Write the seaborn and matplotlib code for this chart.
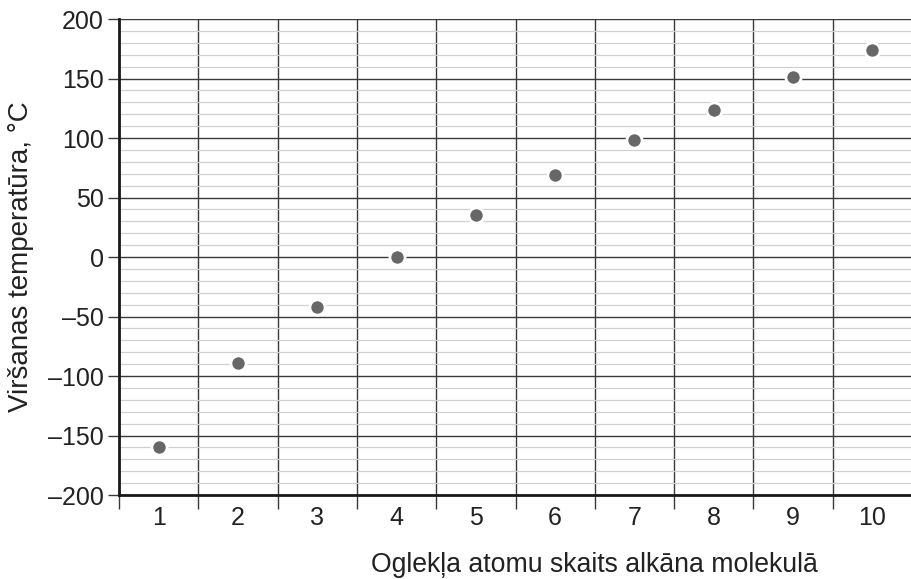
import matplotlib
matplotlib.use("Agg")
import matplotlib.pyplot as plt
import matplotlib.ticker as mticker
import seaborn as sns
import pandas as pd

# dati: oglekļa atomu skaits un viršanas temperatūra
atomi = [1, 2, 3, 4, 5, 6, 7, 8, 9, 10]
temperatura = [-160, -89, -42, 0, 35, 69, 98, 124, 151, 174]
y_ticks = [-200, -150, -100, -50, 0, 50, 100, 150, 200]

df = pd.DataFrame({"atomi": atomi, "temp": temperatura})

sns.set_style("white")
plt.rcParams['font.family'] = ['Liberation Sans', 'DejaVu Sans']

fig = plt.figure(figsize=(9.12, 5.79), dpi=100)
ax = fig.add_axes([0.1305, 0.145, 0.8695, 0.822])

ax.set_xlim(0.5, 10.41)
ax.set_ylim(-200, 200)

# režģis
ax.set_yticks(y_ticks)
ax.yaxis.set_minor_locator(mticker.MultipleLocator(10))
ax.grid(which='minor', axis='y', color='#d0d0d0', linewidth=0.9)
ax.grid(which='major', axis='y', color='#3a3a3a', linewidth=1.0)

ax.set_xticks(atomi)
ax.set_xticks([x + 0.5 for x in [0] + atomi], minor=True)
ax.grid(which='minor', axis='x', color='#3a3a3a', linewidth=1.0)
ax.set_axisbelow(True)

sns.scatterplot(data=df, x="atomi", y="temp", ax=ax, s=120, color='#676767',
                edgecolor='white', linewidth=2.0, zorder=5, clip_on=False)

ax.yaxis.set_major_formatter(mticker.FuncFormatter(
    lambda v, p: f"{int(v)}".replace("-", "\u2013")))

ax.tick_params(axis='x', which='major', length=0, labelsize=18, pad=8, colors='#222222')
ax.tick_params(axis='x', which='minor', length=10, width=1.0, color='#3a3a3a', direction='out', bottom=True)
ax.tick_params(axis='y', which='major', length=8, width=1.0, color='#3a3a3a', labelsize=18, pad=3, colors='#222222', left=True)
ax.tick_params(axis='y', which='minor', length=0)

for s in ['top', 'right']:
    ax.spines[s].set_visible(False)
for s in ['left', 'bottom']:
    ax.spines[s].set_color('#1a1a1a')
    ax.spines[s].set_linewidth(2.0)

ax.set_xlabel("Oglekļa atomu skaits alkāna molekulā", fontsize=19.2, color='#222222', labelpad=17)
ax.xaxis.set_label_coords(0.599, -0.119)
ax.set_ylabel("Viršanas temperatūra, °C", fontsize=20, color='#222222', labelpad=10)

fig.savefig("out.png", dpi=100)
